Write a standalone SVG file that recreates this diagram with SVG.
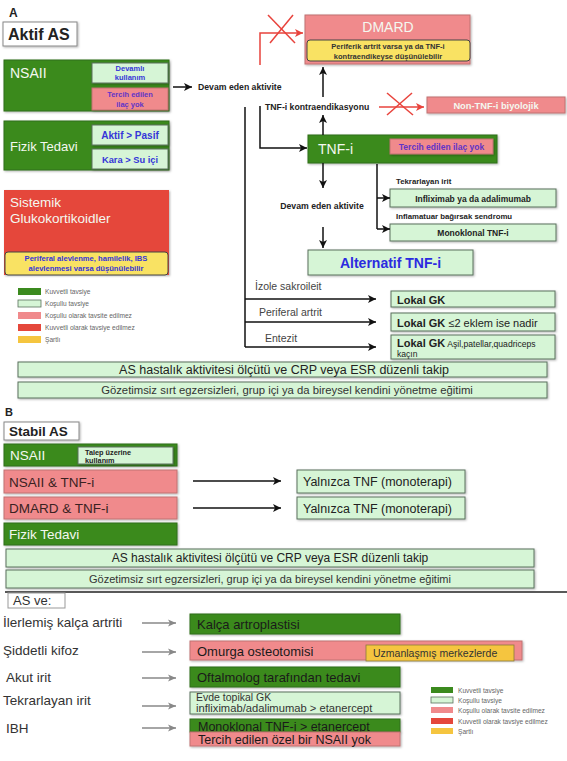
<svg xmlns="http://www.w3.org/2000/svg" width="567" height="761" viewBox="0 0 567 761">
<defs>
<filter id="sh" x="-5%" y="-20%" width="110%" height="150%"><feDropShadow dx="1" dy="1" stdDeviation="0.8" flood-color="#000" flood-opacity="0.3"/></filter>
<marker id="ak" markerUnits="userSpaceOnUse" markerWidth="9" markerHeight="8" refX="8" refY="4" orient="auto"><path d="M0,0 L8,4 L0,8 L2,4 z" fill="#111"/></marker>
<marker id="ar" markerUnits="userSpaceOnUse" markerWidth="9" markerHeight="8" refX="8" refY="4" orient="auto"><path d="M0,0 L8,4 L0,8 L2,4 z" fill="#e8433c"/></marker>
<marker id="ag" markerUnits="userSpaceOnUse" markerWidth="9" markerHeight="8" refX="8" refY="4" orient="auto"><path d="M0,0.5 L8,4 L0,7.5 L2,4 z" fill="#888"/></marker>
</defs>
<style>
text{font-family:"Liberation Sans",Arial,sans-serif}
.g{fill:#3b8a1e;stroke:#2e6c17;stroke-width:1;filter:url(#sh)}
.lg{fill:#d6f5d6;stroke:#5a705c;stroke-width:1;filter:url(#sh)}
.pk{fill:#f08a8c;stroke:#c07272;stroke-width:1;filter:url(#sh)}
.rd{fill:#e5473b;filter:url(#sh)}
.yl{fill:#f9e263;stroke:#444;stroke-width:1}
.or{fill:#f5c53f;stroke:#8a7a3a;stroke-width:0.8}
.bx{fill:#fff;stroke:#888;stroke-width:1;filter:url(#sh)}
.w{fill:#f4f8f0}
.b{font-weight:bold}
.bl{fill:#3535d8;font-weight:bold}
.pu{fill:#6034c8;font-weight:bold}
.dk{fill:#222}
.gy{fill:#444}
.lgd{fill:#666;font-size:6.6px}
.c{text-anchor:middle}
.ln{fill:none;stroke:#111;stroke-width:1.5}
.lr{fill:none;stroke:#e8433c;stroke-width:1.5}
.lgy{fill:none;stroke:#888;stroke-width:1.3}
</style>
<rect width="567" height="761" fill="#fff"/>

<g id="labelA"><text x="9" y="17" class="b dk" font-size="12">A</text></g>
<g id="aktifAS"><rect x="3" y="22" width="74" height="24" class="bx"/><text x="8" y="40" class="b dk" font-size="16">Aktif AS</text></g>

<g id="nsaiiA">
<rect x="4" y="60" width="165" height="51" class="g"/>
<text x="10" y="78" class="w" font-size="14">NSAII</text>
<rect x="92" y="63" width="76" height="20" class="lg"/>
<text x="130" y="71" class="bl c" font-size="7.5">Devamlı</text>
<text x="130" y="80" class="bl c" font-size="7.5">kullanım</text>
<rect x="92" y="88" width="76" height="22" class="pk"/>
<text x="130" y="97" class="pu c" font-size="7.5">Tercih edilen</text>
<text x="130" y="107" class="pu c" font-size="7.5">ilaç yok</text>
</g>

<g id="fizikA">
<rect x="4" y="121" width="165" height="49" class="g"/>
<text x="10" y="151" class="w" font-size="13">Fizik Tedavi</text>
<rect x="92" y="125" width="76" height="20" class="lg"/>
<text x="130" y="139" class="bl c" font-size="10">Aktif &gt; Pasif</text>
<rect x="92" y="149" width="76" height="20" class="lg"/>
<text x="130" y="163" class="bl c" font-size="9.3">Kara &gt; Su içi</text>
</g>

<g id="sistemik">
<rect x="4" y="190" width="165" height="85" class="rd"/>
<text x="10" y="207" class="w" font-size="13.5">Sistemik</text>
<text x="10" y="223" class="w" font-size="13.5">Glukokortikoidler</text>
<rect x="5" y="252" width="163" height="23" rx="3" class="yl"/>
<text x="86" y="261" class="bl c" font-size="7.6">Periferal alevlenme, hamilelik, IBS</text>
<text x="86" y="271" class="bl c" font-size="7.6">alevlenmesi varsa düşünülebilir</text>
</g>

<g id="legendA">
<rect x="18" y="288" width="23" height="7" fill="#3b8a1e"/>
<rect x="18" y="300" width="23" height="7" fill="#d6f5d6" stroke="#5a705c" stroke-width="0.8"/>
<rect x="18" y="312" width="23" height="7" fill="#f08a8c"/>
<rect x="18" y="324" width="23" height="7" fill="#e5473b"/>
<rect x="18" y="336" width="23" height="7" fill="#f5c53f"/>
<text x="45" y="294" class="lgd">Kuvvetli tavsiye</text>
<text x="45" y="306" class="lgd">Koşullu tavsiye</text>
<text x="45" y="318" class="lgd">Koşullu olarak tavsite edilmez</text>
<text x="45" y="330" class="lgd">Kuvvetli olarak tavsiye edilmez</text>
<text x="45" y="342" class="lgd">Şartlı</text>
</g>

<g id="devamA"><text x="198" y="90" class="b dk" font-size="8.7">Devam eden aktivite</text></g>

<g id="dmard">
<rect x="305" y="15" width="165" height="49" class="pk"/>
<text x="388" y="32" class="w c" font-size="14">DMARD</text>
<rect x="307" y="40" width="163" height="21" rx="3" class="yl"/>
<text x="388" y="49" class="b c" fill="#333" font-size="7.5">Periferik artrit varsa ya da TNF-i</text>
<text x="388" y="58.5" class="b c" fill="#333" font-size="7.5">kontraendikeyse düşünülebilir</text>
</g>

<g id="kontra"><text x="265" y="110" class="b dk" font-size="8.7">TNF-i kontraendikasyonu</text></g>

<g id="nontnf">
<rect x="427" y="97" width="138" height="16" class="pk"/>
<text x="496" y="108.5" class="w b c" font-size="9.3">Non-TNF-i biyolojik</text>
</g>

<g id="tnfi">
<rect x="308" y="135" width="189" height="28" class="g"/>
<text x="318" y="154" class="w" font-size="14">TNF-i</text>
<rect x="390" y="139" width="103" height="15" class="pk"/>
<text x="441.5" y="150" class="pu c" font-size="8.5">Tercih edilen ilaç yok</text>
</g>

<g id="devamB"><text x="322" y="209" class="b dk c" font-size="8.7">Devam eden aktivite</text></g>

<g id="tekrarA">
<text x="396" y="184" class="b dk" font-size="7.8">Tekrarlayan irit</text>
<rect x="390" y="189" width="166" height="18" class="lg"/>
<text x="473" y="201.5" class="b dk c" font-size="8.5">Infliximab ya da adalimumab</text>
</g>

<g id="ibsA">
<text x="396" y="219" class="b dk" font-size="7.8">Inflamatuar bağırsak sendromu</text>
<rect x="390" y="224" width="166" height="17" class="lg"/>
<text x="473" y="236" class="b dk c" font-size="8.5">Monoklonal TNF-i</text>
</g>

<g id="alternatif">
<rect x="308" y="250" width="165" height="25" class="lg"/>
<text x="390.5" y="267.5" class="b c" fill="#2b2be0" font-size="14">Alternatif TNF-i</text>
</g>

<g id="lokal1">
<text x="255" y="290" class="gy" font-size="10.5">İzole sakroileit</text>
<rect x="391" y="291" width="164" height="16" class="lg"/>
<text x="397" y="304" class="b dk" font-size="11">Lokal GK</text>
</g>
<g id="lokal2">
<text x="259" y="316" class="gy" font-size="10.5">Periferal artrit</text>
<rect x="391" y="313" width="164" height="18" class="lg"/>
<text x="397" y="326.5" class="dk" font-size="11"><tspan class="b">Lokal GK</tspan> ≤2 eklem ise nadir</text>
</g>
<g id="lokal3">
<text x="265" y="342" class="gy" font-size="10.5">Entezit</text>
<rect x="391" y="335" width="164" height="24" class="lg"/>
<text x="397" y="346.5" class="dk" font-size="11"><tspan class="b">Lokal GK</tspan><tspan font-size="8.6"> Aşil,patellar,quadriceps</tspan></text>
<text x="397" y="356.5" class="dk" font-size="8.6">kaçın</text>
</g>

<g id="takipA">
<rect x="18" y="362" width="529" height="15" class="lg"/>
<text x="284" y="374" class="dk c" font-size="12.5">AS hastalık aktivitesi ölçütü ve CRP veya ESR düzenli  takip</text>
</g>
<g id="egzA">
<rect x="18" y="382" width="529" height="16" class="lg"/>
<text x="287" y="393.5" class="c" fill="#333" font-size="11.3">Gözetimsiz sırt egzersizleri, grup içi ya da bireysel kendini yönetme eğitimi</text>
</g>

<g id="labelB"><text x="5" y="416" class="b dk" font-size="11">B</text></g>
<g id="stabilAS"><rect x="4" y="422" width="75" height="18" class="bx"/><text x="9" y="436" class="b dk" font-size="13.5">Stabil AS</text></g>

<g id="nsaiiB">
<rect x="4" y="444" width="173" height="22" class="g"/>
<text x="10" y="460" class="w" font-size="13.5">NSAII</text>
<rect x="78" y="447" width="95" height="17" class="lg"/>
<text x="85" y="454.5" class="b dk" font-size="7.3">Talep üzerine</text>
<text x="85" y="463" class="b dk" font-size="7.3">kullanım</text>
</g>

<g id="nsaiiTnf">
<rect x="4" y="470" width="173" height="23" class="pk"/>
<text x="9" y="486.5" fill="#3a2222" font-size="13.5">NSAII &amp; TNF-i</text>
</g>
<g id="yalniz1">
<rect x="297" y="470" width="168" height="23" class="lg"/>
<text x="303" y="486" class="dk" font-size="12.5">Yalnızca TNF (monoterapi)</text>
</g>
<g id="dmardTnf">
<rect x="4" y="497" width="173" height="22" class="pk"/>
<text x="9" y="513" fill="#3a2222" font-size="13.5">DMARD &amp; TNF-i</text>
</g>
<g id="yalniz2">
<rect x="297" y="497" width="168" height="22" class="lg"/>
<text x="303" y="513" class="dk" font-size="12.5">Yalnızca TNF (monoterapi)</text>
</g>
<g id="fizikB">
<rect x="4" y="523" width="173" height="22" class="g"/>
<text x="9" y="539" class="w" font-size="13.5">Fizik Tedavi</text>
</g>
<g id="takipB">
<rect x="6" y="549" width="528" height="18" class="lg"/>
<text x="270" y="562" class="dk c" font-size="12">AS hastalık aktivitesi ölçütü ve CRP veya ESR düzenli  takip</text>
</g>
<g id="egzB">
<rect x="6" y="570" width="528" height="18" class="lg"/>
<text x="270" y="583" class="c" fill="#333" font-size="11">Gözetimsiz sırt egzersizleri, grup içi ya da bireysel kendini yönetme eğitimi</text>
</g>

<g id="divider"><line x1="5" y1="592" x2="567" y2="592" stroke="#222" stroke-width="1.5"/></g>

<g id="asve"><rect x="8" y="593" width="57" height="15" fill="#fff" stroke="#999" stroke-width="1"/><text x="13" y="605" fill="#333" font-size="13">AS ve:</text></g>

<g id="kalca">
<text x="3" y="627" fill="#333" font-size="13.5">İlerlemiş kalça artriti</text>
<rect x="190" y="614" width="210" height="20" class="g"/>
<text x="197" y="628.5" fill="#1a1a1a" font-size="13">Kalça artroplastisi</text>
</g>
<g id="kifoz">
<text x="3" y="655" fill="#333" font-size="13.5">Şiddetli kifoz</text>
<rect x="190" y="641" width="332" height="19" class="pk"/>
<text x="197" y="655.5" fill="#1a1a1a" font-size="13">Omurga osteotomisi</text>
<rect x="366" y="645" width="148" height="16" class="or"/>
<text x="373" y="657" fill="#333" font-size="10.5">Uzmanlaşmış merkezlerde</text>
</g>
<g id="akut">
<text x="6" y="682" fill="#333" font-size="13.5">Akut irit</text>
<rect x="190" y="667" width="210" height="20" class="g"/>
<text x="197" y="682" fill="#1a1a1a" font-size="13">Oftalmolog tarafından tedavi</text>
</g>
<g id="tekrarC">
<text x="3" y="705" fill="#333" font-size="13.5">Tekrarlayan irit</text>
<rect x="190" y="692" width="210" height="22" class="lg"/>
<text x="196" y="701" fill="#333" font-size="10.5">Evde topikal GK</text>
<text x="196" y="712" fill="#333" font-size="11.2">infliximab/adalimumab &gt; etanercept</text>
</g>
<g id="ibh">
<text x="6" y="733" fill="#333" font-size="13.5">IBH</text>
<rect x="190" y="719" width="210" height="13" class="g"/>
<text x="198" y="731" fill="#1a1a1a" font-size="12.5">Monoklonal TNF-i &gt; etanercept</text>
<rect x="190" y="732" width="210" height="14" class="pk"/>
<text x="198" y="743.5" fill="#1a1a1a" font-size="12.5">Tercih edilen özel bir NSAII yok</text>
</g>

<g id="legendC">
<rect x="431" y="687" width="22" height="6" fill="#3b8a1e"/>
<rect x="431" y="697" width="22" height="6" fill="#d6f5d6" stroke="#5a705c" stroke-width="0.8"/>
<rect x="431" y="707" width="22" height="6" fill="#f08a8c"/>
<rect x="431" y="718" width="22" height="6" fill="#e5473b"/>
<rect x="431" y="728" width="22" height="6" fill="#f5c53f"/>
<text x="458" y="692.5" class="lgd">Kuvvetli tavsiye</text>
<text x="458" y="702.5" class="lgd">Koşullu tavsiye</text>
<text x="458" y="712.5" class="lgd">Koşullu olarak tavsite edilmez</text>
<text x="458" y="723.5" class="lgd">Kuvvetli olarak tavsiye edilmez</text>
<text x="458" y="733.5" class="lgd">Şartlı</text>
</g>

<g id="connectors">
<line x1="173" y1="87" x2="192" y2="87" class="ln" marker-end="url(#ak)"/>
<path d="M260,65 V33 H303" class="lr" marker-end="url(#ar)"/>
<line x1="268" y1="15" x2="295" y2="43" class="lr"/>
<line x1="293" y1="15" x2="270" y2="43" class="lr"/>
<line x1="323" y1="97" x2="323" y2="67" class="ln" marker-end="url(#ak)"/>
<line x1="379" y1="107" x2="424" y2="107" class="lr" marker-end="url(#ar)"/>
<line x1="387" y1="93" x2="413" y2="115" class="lr"/>
<line x1="412" y1="93" x2="387" y2="115" class="lr"/>
<line x1="323" y1="135" x2="323" y2="115" class="ln" marker-end="url(#ak)"/>
<path d="M260,106 V148 H307" class="ln" marker-end="url(#ak)"/>
<line x1="323" y1="163" x2="323" y2="188" class="ln" marker-end="url(#ak)"/>
<line x1="323" y1="227" x2="323" y2="248" class="ln" marker-end="url(#ak)"/>
<path d="M377,164 V229" class="ln"/>
<line x1="377" y1="198" x2="390" y2="198" class="ln" marker-end="url(#ak)"/>
<line x1="377" y1="229" x2="390" y2="229" class="ln" marker-end="url(#ak)"/>
<path d="M245,107 V347" class="ln"/>
<line x1="245" y1="299" x2="376" y2="299" class="ln" marker-end="url(#ak)"/>
<line x1="245" y1="322" x2="376" y2="322" class="ln" marker-end="url(#ak)"/>
<line x1="245" y1="347" x2="376" y2="347" class="ln" marker-end="url(#ak)"/>
<line x1="193" y1="481" x2="281" y2="481" class="ln" marker-end="url(#ak)"/>
<line x1="193" y1="508" x2="281" y2="508" class="ln" marker-end="url(#ak)"/>
<line x1="142" y1="623" x2="176" y2="623" class="lgy" marker-end="url(#ag)"/>
<line x1="142" y1="652" x2="176" y2="652" class="lgy" marker-end="url(#ag)"/>
<line x1="142" y1="678" x2="176" y2="678" class="lgy" marker-end="url(#ag)"/>
<line x1="142" y1="706" x2="176" y2="706" class="lgy" marker-end="url(#ag)"/>
<line x1="142" y1="728" x2="176" y2="728" class="lgy" marker-end="url(#ag)"/>
</g>
</svg>
